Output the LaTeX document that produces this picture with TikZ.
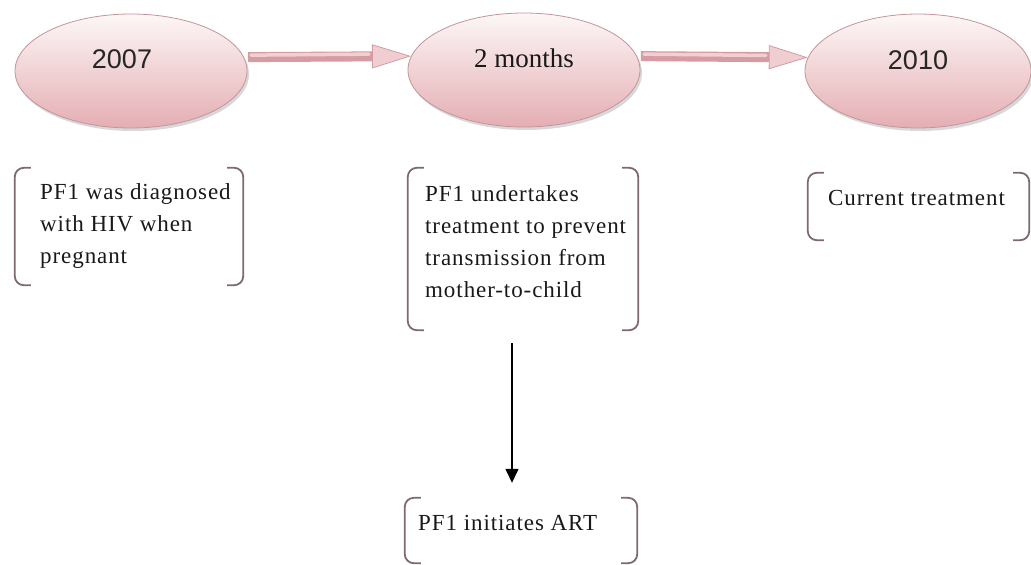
\documentclass[tikz,border=0pt]{standalone}
\usepackage{fontspec}
\setmainfont{Liberation Serif}[LetterSpace=4]
\newfontfamily\yearfont{Liberation Sans}
\newfontfamily\labelfont{Liberation Serif}
\usetikzlibrary{arrows.meta,shapes.geometric,shadows,calc}

\definecolor{ovaltop}{HTML}{FDF7F7}
\definecolor{ovalbot}{HTML}{E4AEB3}
\definecolor{ovalrim}{HTML}{C4959A}
\definecolor{shaftpink}{HTML}{D69CA2}
\definecolor{shafthigh}{HTML}{F0D0D3}
\definecolor{headpink}{HTML}{F0CDD0}
\definecolor{headrim}{HTML}{D29DA2}
\definecolor{bracketcol}{HTML}{7E6A6C}

\newcommand\bracketpair[1]{%
  \draw[bracket] ([xshift=16pt]#1.north west) -- (#1.north west)
                 -- (#1.south west) -- ([xshift=16pt]#1.south west);
  \draw[bracket] ([xshift=-16pt]#1.north east) -- (#1.north east)
                 -- (#1.south east) -- ([xshift=-16pt]#1.south east);
}

\begin{document}
\begin{tikzpicture}[x=1pt,y=-1pt,
  oval/.style={ellipse, minimum width=232pt, minimum height=114pt, inner sep=0pt,
    draw=ovalrim, line width=0.8pt, top color=ovaltop, bottom color=ovalbot,
    drop shadow={shadow xshift=2pt, shadow yshift=-3pt, opacity=0.22, fill=black!70}},
  blockarrow/.style={line width=10pt, draw=shaftpink,
    -{Triangle[length=39pt, width=24pt, line width=0.8pt, fill=headpink, color=headrim]}},
  shaftlight/.style={line width=3.5pt, draw=shafthigh, line cap=round},
  boxarea/.style={rectangle, inner sep=0pt},
  bracket/.style={draw=bracketcol, line width=1.8pt, rounded corners=9pt},
  txt/.style={font=\fontsize{23}{32}\selectfont, align=left, inner sep=0pt,
    anchor=north west, text=black!90},
  downarrow/.style={line width=1.4pt, draw=black,
    -{Triangle[length=14pt, width=13pt]}}
]
\useasboundingbox (0,0) rectangle (1031,565);

% time points
\node[oval] (e1) at (131,71) {\hspace*{-18pt}\raisebox{23pt}{\yearfont\fontsize{27}{30}\selectfont\color{black!85}2007}};
\node[oval] (e2) at (524,70) {\raisebox{23pt}{\labelfont\fontsize{27}{30}\selectfont\color{black!90}2 months}};
\node[oval, minimum width=226pt] (e3) at (918,71) {\raisebox{22pt}{\yearfont\fontsize{27}{30}\selectfont\color{black!85}2010}};

% block arrows between time points
\draw[blockarrow] ([xshift=4pt]e1.7) -- (e2.173);
\draw[shaftlight] ([xshift=7pt,yshift=2pt]e1.7) -- ([xshift=-42pt,yshift=2pt]e2.173);
\draw[blockarrow] ([xshift=4pt]e2.7) -- (e3.173);
\draw[shaftlight] ([xshift=7pt,yshift=2pt]e2.7) -- ([xshift=-42pt,yshift=2pt]e3.173);

% bracketed text areas
\node[boxarea, minimum width=228pt, minimum height=117pt] (b1) at (129,226.5) {};
\node[boxarea, minimum width=230pt, minimum height=162pt] (b2) at (523,249) {};
\node[boxarea, minimum width=232pt, minimum height=65pt] (b3) at (521,530.5) {};
\node[boxarea, minimum width=221pt, minimum height=67pt] (b4) at (918.5,206.5) {};
\bracketpair{b1}
\bracketpair{b2}
\bracketpair{b3}
\bracketpair{b4}

\node[txt] (t1) at (40,183) {PF1 was diagnosed\\with HIV when\\pregnant};
\node[txt] (t2) at (425,185) {PF1 undertakes\\treatment to prevent\\transmission from\\mother-to-child};
\node[txt] (t3) at (418,515) {PF1 initiates ART};
\node[txt] (t4) at (828,190) {Current treatment};

% step down to ART
\coordinate (ax) at (512,0);
\draw[downarrow, shorten <=13pt, shorten >=15pt] (b2.south -| ax) -- (b3.north -| ax);
\end{tikzpicture}
\end{document}
